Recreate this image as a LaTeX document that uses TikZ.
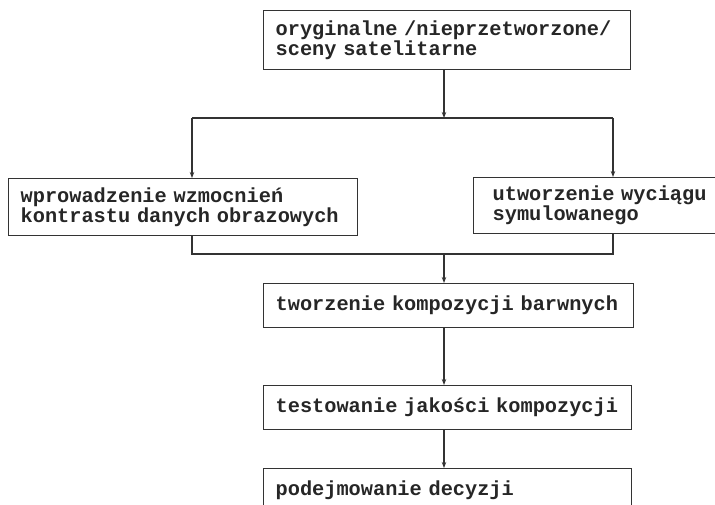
\documentclass[tikz,border=0pt]{standalone}
\usepackage{fontspec}
\setmainfont{Liberation Mono}
\usetikzlibrary{arrows.meta}
\newcommand{\boxfont}{\fontsize{20.3}{18.5}\selectfont\bfseries}
\begin{document}
\begin{tikzpicture}[x=1pt,y=-1pt,
  ln/.style={draw=black!80, line width=1.3pt},
  arr/.style={ln, -{Stealth[length=6pt,width=4.5pt]}},
  box/.style={ln, anchor=north west, align=left, inner xsep=12pt, inner ysep=0pt,
    font=\boxfont, text=black!85},
]
\useasboundingbox (0,0) rectangle (715,505);
\clip (0,0) rectangle (715,505);
\node[box, text width=343pt, minimum height=59pt] (b1) at (263,10) {oryginalne /nieprzetworzone/\\sceny satelitarne};
\node[box, text width=325pt, minimum height=57pt] (b2) at (8,178) {wprowadzenie wzmocnień\\kontrastu danych obrazowych};
\node[box, inner xsep=19pt, text width=240pt, minimum height=56pt] (b3) at (473,177) {utworzenie wyciągu\\symulowanego};
\node[box, text width=346pt, minimum height=44pt] (b4) at (263,283) {tworzenie kompozycji barwnych};
\node[box, text width=344pt, minimum height=44pt] (b5) at (263,385) {testowanie jakości kompozycji};
\node[box, text width=344pt, minimum height=44pt] (b6) at (263,468) {podejmowanie decyzji};
\coordinate (j1) at (444,118);
\coordinate (l1) at (192,118);
\coordinate (r1) at (613,118);
\coordinate (j2) at (444,254);
\coordinate (l2) at (192,254);
\coordinate (r2) at (613,254);
\draw[arr] (b1.south -| j1) -- (j1);
\draw[ln] (l1) -- (r1);
\draw[arr] (l1) -- (l1 |- b2.north);
\draw[arr] (r1) -- (r1 |- b3.north);
\draw[ln] (l2 |- b2.south) -- (l2) -- (r2) -- (r2 |- b3.south);
\draw[arr] (j2) -- (j2 |- b4.north);
\draw[arr] (j2 |- b4.south) -- (j2 |- b5.north);
\draw[arr] (j2 |- b5.south) -- (j2 |- b6.north);
\end{tikzpicture}
\end{document}
